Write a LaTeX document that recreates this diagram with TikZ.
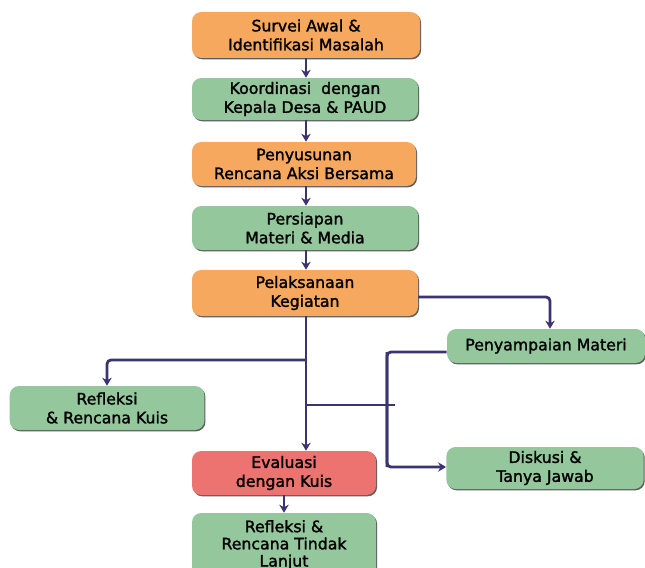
\documentclass[tikz,border=0pt]{standalone}
\usepackage{fontspec}
\setmainfont{DejaVu Sans}[FakeBold=1.6]
\usetikzlibrary{arrows.meta,shadows,calc}
\definecolor{navy}{HTML}{3A3470}
\definecolor{orng}{HTML}{F6A85E}
\definecolor{grn}{HTML}{94C79C}
\definecolor{rd}{HTML}{EC7370}
\tikzset{
  box/.style={rounded corners=7pt, align=center, inner sep=0pt, font=\fontsize{11.8pt}{14.2pt}\selectfont,
    drop shadow={shadow xshift=0.8pt, shadow yshift=-1pt, fill=black!70, opacity=0.9}},
  obox/.style={box, fill=orng},
  gbox/.style={box, fill=grn},
  rbox/.style={box, fill=rd},
  conn/.style={draw=navy, line width=2.1pt, rounded corners=3pt},
  arr/.style={conn, -{Stealth[length=6pt,width=7pt]}}
}
\begin{document}
\begin{tikzpicture}[x=0.75pt,y=-0.75pt]
\useasboundingbox[fill=white] (0,0) rectangle (645,567);
\node[obox, minimum width=171pt, minimum height=34.5pt] (n1) at (306,35) {Survei Awal \&\\Identifikasi Masalah};
\node[gbox, minimum width=169.5pt, minimum height=31.5pt] (n2) at (305,99) {Koordinasi\ \ dengan\\Kepala Desa \& PAUD};
\node[obox, minimum width=168pt, minimum height=33pt] (n3) at (304,164) {Penyusunan\\Rencana Aksi Bersama};
\node[gbox, minimum width=169.5pt, minimum height=33pt] (n4) at (305,228) {Persiapan\\Materi \& Media};
\node[obox, minimum width=169.5pt, minimum height=34.5pt] (n5) at (305,293) {Pelaksanaan\\Kegiatan};
\node[gbox, minimum width=148.5pt, minimum height=25.5pt] (n6) at (546,346) {Penyampaian Materi};
\node[gbox, minimum width=146pt, minimum height=33pt] (n7) at (107,408) {Refleksi\\\& Rencana Kuis};
\node[rbox, minimum width=138pt, minimum height=33pt] (n8) at (284,473) {Evaluasi\\dengan Kuis};
\node[gbox, minimum width=148pt, minimum height=31.5pt] (n9) at (545,468) {Diskusi \&\\Tanya Jawab};
\node[gbox, minimum width=138pt, minimum height=48pt, font=\fontsize{11.8pt}{12.9pt}\selectfont] (n10) at (284,545) {Refleksi \&\\Rencana Tindak\\Lanjut};

\coordinate (sp) at (306,316);
\coordinate (bl) at (306,360);
\coordinate (br) at (306,405);
\coordinate (vxe) at (395,405);
\coordinate (vt) at (387,352);
\coordinate (vb) at (387,467);
\coordinate (rt) at (550,297);

\draw[arr] (n1.south -| sp) -- (n2.north -| sp);
\draw[arr] (n2.south -| sp) -- (n3.north -| sp);
\draw[arr] (n3.south -| sp) -- (n4.north -| sp);
\draw[arr] (n4.south -| sp) -- (n5.north -| sp);
\draw[arr] (n5.south -| sp) -- (n8.north -| sp);
\draw[arr] (bl) -| (n7.north);
\draw[conn] (br) -- (vxe);
\draw[conn] (n6.west |- vt) -- (vt) -- (vb);
\draw[arr] (vt) -- (vb) -- (n9.west |- vb);
\draw[arr] (n5.east |- rt) -| (n6.north -| rt);
\draw[arr] (n8.south) -- (n10.north);
\end{tikzpicture}
\end{document}
